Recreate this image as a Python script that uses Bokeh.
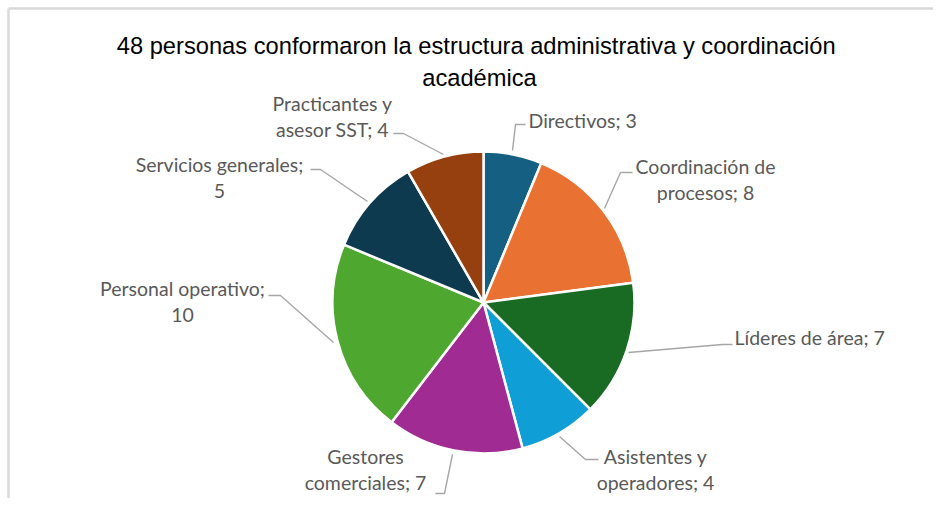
import math
from bokeh.plotting import figure
from bokeh.models import Range1d, ColumnDataSource
from bokeh.core.properties import value
from bokeh.embed import file_html
from bokeh.resources import INLINE

# ---- data ----
categories = ["Directivos", "Coordinación de procesos", "Líderes de área",
              "Asistentes y operadores", "Gestores comerciales",
              "Personal operativo", "Servicios generales",
              "Practicantes y asesor SST"]
counts = [3, 8, 7, 4, 7, 10, 5, 4]
colors = ["#156082", "#E97132", "#196B24", "#0F9ED5", "#A02B93",
          "#4EA72E", "#0E3A4F", "#96400F"]
title_lines = ["48 personas conformaron la estructura administrativa  y coordinación",
               "académica"]

# ---- layout (screen pixel coords) ----
W, H = 933, 498
def Y(ys):
    return H - ys

cx, cy, R = 483, 302, 151

label_lines = [
    ["Directivos; 3"],
    ["Coordinación de", "procesos; 8"],
    ["Líderes de área; 7"],
    ["Asistentes y", "operadores; 4"],
    ["Gestores", "comerciales; 7"],
    ["Personal operativo;", "10"],
    ["Servicios generales;", "5"],
    ["Practicantes y", "asesor SST; 4"],
]
label_anchor = [  # (x, y of first line center, align)
    (528, 120, "left"),
    (705, 166, "center"),
    (734, 337, "left"),
    (655, 456, "center"),
    (365, 456, "center"),
    (182, 288, "center"),
    (219, 164, "center"),
    (332, 103, "center"),
]
leaders = [
    [(512, 150), (515, 124), (525, 124)],
    [(604, 208), (620, 172), (632, 172)],
    [(628, 352), (722, 344), (732, 344)],
    [(559, 436), (585, 459), (598, 459)],
    [(452, 454), (444, 493), (435, 493)],
    [(333, 342), (280, 295), (268, 295)],
    [(367, 201), (320, 169), (310, 169)],
    [(443, 154), (403, 133), (393, 133)],
]

p = figure(width=W, height=H, output_backend="svg", toolbar_location=None,
           x_range=Range1d(0, W), y_range=Range1d(0, H),
           min_border=0, match_aspect=False)
p.axis.visible = False
p.grid.visible = False
p.outline_line_color = None
p.background_fill_color = "white"
p.border_fill_color = "white"

# wedges
total = sum(counts)
starts, ends = [], []
acc = 0
for v in counts:
    a0 = math.pi / 2 - 2 * math.pi * (acc + v) / total
    a1 = math.pi / 2 - 2 * math.pi * acc / total
    starts.append(a0)
    ends.append(a1)
    acc += v
src = ColumnDataSource(dict(start=starts, end=ends, color=colors, cat=categories, val=counts))
p.wedge(x=cx, y=Y(cy), radius=R, start_angle="start", end_angle="end",
        fill_color="color", line_color="white", line_width=2.5, source=src)

# leader lines
for pts in leaders:
    p.line([q[0] for q in pts], [Y(q[1]) for q in pts], line_color="#a6a6a6", line_width=1.4)

# labels
for lines, (lx, ly, al) in zip(label_lines, label_anchor):
    for i, t in enumerate(lines):
        p.text(x=[lx], y=[Y(ly + 26 * i)], text=[t], text_align=al, text_baseline="middle",
               text_font=value("Lato"), text_font_size="19.5px", text_color="#595959")

# title
for i, t in enumerate(title_lines):
    p.text(x=[479], y=[Y(45 + 32 * i)], text=[t], text_align="center", text_baseline="middle",
           text_font=value("Liberation Sans"), text_font_size="23.7px", text_color="#000000")

# chart border (top and left edges visible in reference)
p.line([8, W], [Y(8), Y(8)], line_color="#d9d9d9", line_width=2.5)
p.line([8, 8], [Y(8), Y(H)], line_color="#d9d9d9", line_width=2.5)

open("out.html", "w").write(file_html(p, INLINE))
